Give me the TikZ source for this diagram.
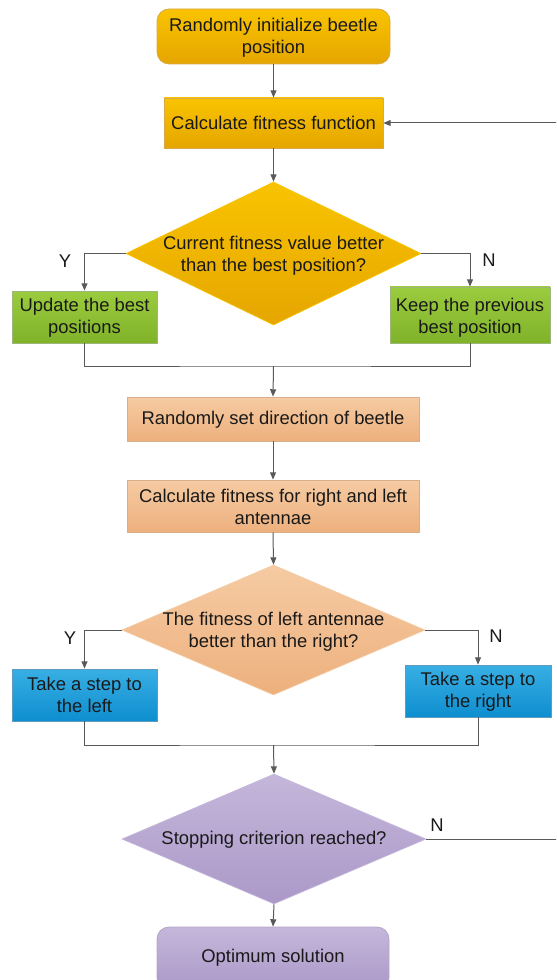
\documentclass[tikz,border=0pt]{standalone}
\usepackage{fontspec}
\setmainfont{Liberation Sans}
\usetikzlibrary{shapes.geometric,arrows.meta}

\definecolor{ylwTop}{HTML}{F9C300}
\definecolor{ylwBot}{HTML}{E5A600}
\definecolor{ylwLine}{HTML}{D9A84A}
\definecolor{grnTop}{HTML}{9BCB3E}
\definecolor{grnBot}{HTML}{80B32A}
\definecolor{grnLine}{HTML}{9DB77A}
\definecolor{pchTop}{HTML}{F6CBA3}
\definecolor{pchBot}{HTML}{EDB07D}
\definecolor{pchLine}{HTML}{D8AE8C}
\definecolor{bluTop}{HTML}{38AFE4}
\definecolor{bluBot}{HTML}{0E8ECF}
\definecolor{bluLine}{HTML}{5D9CBF}
\definecolor{prpTop}{HTML}{C4B7DA}
\definecolor{prpBot}{HTML}{AB98C8}
\definecolor{prpLine}{HTML}{B3A6C8}
\definecolor{wire}{HTML}{595959}

\newdimen\pxu
\pxu=0.75pt

\tikzset{
  x=0.75pt, y=-0.75pt,
  txt/.style={font=\fontsize{13.8}{16.5}\selectfont, align=center, text=black!90},
  boxbase/.style={rectangle, inner sep=0pt, line width=0.6pt},
  ybox/.style={boxbase, top color=ylwTop, bottom color=ylwBot, draw=ylwLine},
  gbox/.style={boxbase, top color=grnTop, bottom color=grnBot, draw=grnLine},
  pbox/.style={boxbase, top color=pchTop, bottom color=pchBot, draw=pchLine},
  bbox/.style={boxbase, top color=bluTop, bottom color=bluBot, draw=bluLine},
  vbox/.style={boxbase, top color=prpTop, bottom color=prpBot, draw=prpLine},
  decision/.style={diamond, inner sep=0pt, line width=0.5pt},
  wire/.style={draw=wire, line width=0.75pt},
  flow/.style={wire, -{Triangle[length=5.5pt,width=4.5pt]}},
}

\begin{document}
\begin{tikzpicture}
\useasboundingbox (0,0) rectangle (556,980);
\clip (0,0) rectangle (556,980);

% process boxes
\node[ybox, rounded corners=9pt, minimum width=233\pxu, minimum height=55\pxu]
  (start) at (273.5,36.5) {};
\node[txt] (startt) at (273.5,37.5) {Randomly initialize beetle\\position};
\node[ybox, minimum width=219\pxu, minimum height=50\pxu, txt]
  (calc) at (273.5,123) {Calculate fitness function};

% first decision
\node[decision, top color=ylwTop, bottom color=ylwBot, draw=ylwTop,
  minimum width=295\pxu, minimum height=143\pxu] (d1) at (273.5,253.5) {};
\node[txt] (d1t) at (273.5,256) {Current fitness value better\\than the best position?};

\node[gbox, minimum width=145\pxu, minimum height=52\pxu]
  (upd) at (84.5,317) {};
\node[txt] (updt) at (84.5,318) {Update the best\\positions};
\node[gbox, minimum width=160\pxu, minimum height=56\pxu]
  (keep) at (470,315) {};
\node[txt] (keept) at (470,318) {Keep the previous\\best position};

\node[pbox, minimum width=292\pxu, minimum height=44\pxu]
  (dir) at (273,419) {};
\node[txt] (dirt) at (273,420) {Randomly set direction of beetle};
\node[pbox, minimum width=292\pxu, minimum height=52\pxu]
  (fit2) at (273,506) {};
\node[txt] (fit2t) at (273,507) {Calculate fitness for right and left\\antennae};

% second decision
\node[decision, top color=pchTop, bottom color=pchBot, draw=pchTop,
  minimum width=303\pxu, minimum height=130\pxu] (d2) at (273.5,630) {};
\node[txt] (d2t) at (273.5,632) {The fitness of left antennae\\better than the right?};

\node[bbox, minimum width=145\pxu, minimum height=52\pxu, txt]
  (left) at (84.5,695) {Take a step to\\the left};
\node[bbox, minimum width=146\pxu, minimum height=52\pxu]
  (right) at (478,691) {};
\node[txt] (rightt) at (478,692) {Take a step to\\the right};

% stopping test
\node[decision, top color=prpTop, bottom color=prpBot, draw=prpTop,
  minimum width=304\pxu, minimum height=130\pxu] (d3) at (274,839) {};
\node[txt] (d3t) at (274,840) {Stopping criterion reached?};

\node[vbox, rounded corners=9pt, minimum width=232\pxu, minimum height=63\pxu]
  (opt) at (273,958.5) {};
\node[txt] (optt) at (273,958) {Optimum solution};

% branch labels
\node[txt] (y1) at (65,261) {Y};
\node[txt] (n1) at (489,260) {N};
\node[txt] (y2) at (70,638) {Y};
\node[txt] (n2) at (496,636) {N};
\node[txt] (n3) at (437,825) {N};

% junction points
\coordinate (m1) at (273.5,366);
\coordinate (m2) at (273.5,745);
\coordinate (loopA) at (566,839);
\coordinate (loopB) at (566,123);

% connectors
\draw[flow] (start.south) -- (calc.north);
\draw[flow] (calc.south) -- (d1.north);
\draw[flow] (d1.west) -| (upd.north);
\draw[flow] (d1.east) -| (keep.north);
\draw[wire] (upd.south) |- (m1) -| (keep.south);
\draw[flow] (m1) -- (dir.north);
\draw[flow] (dir.south) -- (fit2.north);
\draw[flow] (fit2.south) -- (d2.north);
\draw[flow] (d2.west) -| (left.north);
\draw[flow] (d2.east) -| (right.north);
\draw[wire] (left.south) |- (m2) -| (right.south);
\draw[flow] (m2) -- (d3.north);
\draw[flow] (d3.south) -- (opt.north);
\draw[flow] (d3.east) -- (loopA) -- (loopB) -- (calc.east);
\end{tikzpicture}
\end{document}
